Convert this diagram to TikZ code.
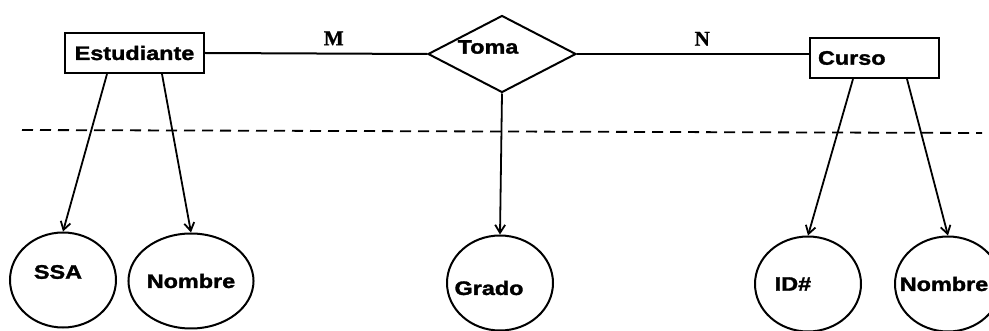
\documentclass[tikz,border=0pt]{standalone}
\usepackage{fontspec}
\setmainfont{Liberation Sans}[FakeStretch=1.2,BoldFeatures={FakeBold=1.6}]
\newfontfamily\cardfont{Liberation Serif}[BoldFeatures={FakeBold=1}]
\usetikzlibrary{shapes.geometric,arrows.meta}

\tikzset{
    txt/.style={font=\fontsize{19.5}{22}\selectfont\bfseries},
    entbox/.style={draw,line width=2.1pt,minimum height=40pt,inner sep=0pt,txt},
    relbox/.style={draw,shape=diamond,line width=2pt,minimum width=148pt,
        minimum height=77pt,inner sep=0pt},
    attrib/.style={draw,shape=ellipse,line width=2pt,minimum width=106pt,
        minimum height=95pt,inner sep=0pt,txt},
    card/.style={above=4pt,font=\cardfont\fontsize{21}{24}\selectfont\bfseries},
    link/.style={line width=2pt},
    toattr/.style={line width=1.8pt,-{Straight Barb[length=8pt,width=10pt,line width=1.8pt]}}
}

\begin{document}
\begin{tikzpicture}[x=1pt,y=-1pt]
    \clip (0,0) rectangle (989,331);

    % entities and relationship
    \node [entbox,minimum width=139pt] (est) at (134.5,53) {Estudiante};
    \node [relbox,label={[txt,xshift=-14pt,yshift=7pt]center:Toma}] (toma) at (502,54) {};
    \node [entbox,minimum width=129pt,text width=113pt,align=left] (curso) at (874.5,58) {Curso};

    % attributes
    \node [attrib,label={[txt,xshift=-5pt,yshift=8pt]center:SSA}] (ssa) at (63,280) {};
    \node [attrib] (nomest) at (191,281) {Nombre};
    \node [attrib,label={[txt,xshift=-11pt,yshift=-5pt]center:Grado}] (grado) at (500,283) {};
    \node [attrib,label={[txt,xshift=-15pt]center:ID\#}] (idc) at (808,284) {};
    \node [attrib,label={[txt,xshift=-4pt]center:Nombre}] (nomcur) at (948,284) {};

    \draw [link] (est.east) -- node [card,pos=0.58] {M} (toma.west);
    \draw [link] (toma.east) -- node [card,pos=0.54] {N} (toma.east -| curso.west);

    \draw [toattr] ([xshift=-27.5pt]est.south) -- (ssa.north);
    \draw [toattr] ([xshift=27.5pt]est.south) -- (nomest.north);
    \draw [toattr] (toma.south) -- (grado.north);
    \draw [toattr] ([xshift=-21.5pt]curso.south) -- (idc.north);
    \draw [toattr] ([xshift=32.5pt]curso.south) -- (nomcur.north);

    % divider
    \coordinate (cutl) at (22,130);
    \coordinate (cutr) at (982,133);
    \draw [line width=1.8pt,dash pattern=on 11pt off 7pt] (cutl) -- (cutr);
\end{tikzpicture}
\end{document}
